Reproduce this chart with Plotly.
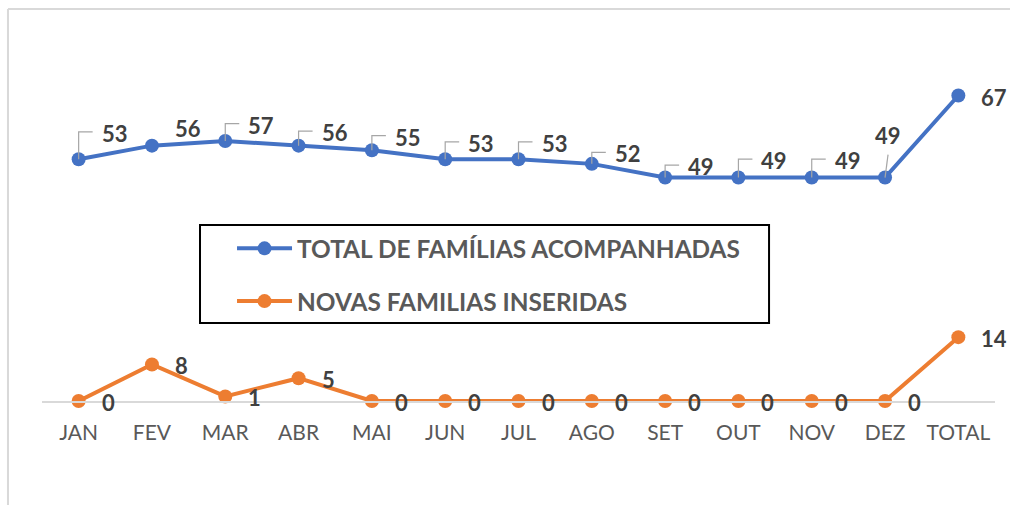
import plotly.graph_objects as go

meses = ['JAN', 'FEV', 'MAR', 'ABR', 'MAI', 'JUN', 'JUL', 'AGO', 'SET', 'OUT', 'NOV', 'DEZ', 'TOTAL']
total_familias = [53, 56, 57, 56, 55, 53, 53, 52, 49, 49, 49, 49, 67]
novas_familias = [0, 8, 1, 5, 0, 0, 0, 0, 0, 0, 0, 0, 14]

nome_total = 'TOTAL DE FAMÍLIAS ACOMPANHADAS'
nome_novas = 'NOVAS FAMILIAS INSERIDAS'

AZUL = '#4472C4'
LARANJA = '#ED7D31'
FONTE = 'Lato'

# ajustes dos rótulos (pixels, positivo = para cima)
desloc_azul = [26, 17, 16, 13, 13, 16, 16, 10, 11, 17, 17, 42, -2]
guia_azul = [True, False, True, True, True, True, True, True, True, True, True, True, False]

fig = go.Figure()
fig.add_trace(go.Scatter(x=meses, y=total_familias, name=nome_total, mode='lines+markers',
                         line=dict(color=AZUL, width=4), marker=dict(size=14, color=AZUL),
                         cliponaxis=False, legendgroup='a', hoverinfo='skip'))
fig.add_trace(go.Scatter(x=meses, y=novas_familias, name=nome_novas, mode='lines+markers',
                         line=dict(color=LARANJA, width=4), marker=dict(size=14, color=LARANJA),
                         cliponaxis=False, legendgroup='b', hoverinfo='skip'))

anots = []
shapes = []
for i, (m, v) in enumerate(zip(meses, total_familias)):
    dy = desloc_azul[i]
    if m == 'DEZ':
        anots.append(dict(x=m, y=v, text=str(v), showarrow=False, xanchor='center', yanchor='middle',
                          xshift=3, yshift=dy))
        shapes.append(dict(type='path', xref='x', yref='y', xsizemode='pixel', ysizemode='pixel',
                           xanchor=i, yanchor=v, path='M 0 0 L 3 23',
                           line=dict(color='#A6A6A6', width=1.2)))
    else:
        anots.append(dict(x=m, y=v, text=str(v), showarrow=False, xanchor='left', yanchor='middle',
                          xshift=21, yshift=dy))
        if guia_azul[i]:
            h = dy + 1.5
            shapes.append(dict(type='path', xref='x', yref='y', xsizemode='pixel', ysizemode='pixel',
                               xanchor=i, yanchor=v, path=f'M 0 0 L 0 {h} L 14 {h}',
                               line=dict(color='#A6A6A6', width=1.2)))
for m, v in zip(meses, novas_familias):
    anots.append(dict(x=m, y=v, text=str(v), showarrow=False, xanchor='left', yanchor='middle',
                      xshift=21, yshift=-1))
for a in anots:
    a['font'] = dict(family=FONTE, size=22, color='#404040', weight='bold')

# moldura do gráfico
shapes.append(dict(type='line', xref='paper', yref='paper', x0=-0.0357, x1=1.02, y0=1.0289, y1=1.0289,
                   line=dict(color='#D9D9D9', width=2)))
shapes.append(dict(type='line', xref='paper', yref='paper', x0=-0.0357, x1=-0.0357, y0=1.0289, y1=-0.28,
                   line=dict(color='#D9D9D9', width=2)))
# caixa da legenda
shapes.append(dict(type='rect', xref='paper', yref='paper', x0=0.1658, x1=0.7629, y0=0.2047, y1=0.4619,
                   line=dict(color='black', width=2), fillcolor='white', layer='below'))

fig.update_layout(
    width=1010, height=505,
    margin=dict(l=42, r=15, t=20, b=104),
    paper_bgcolor='white', plot_bgcolor='rgba(0,0,0,0)',
    font=dict(family=FONTE, color='#595959'),
    xaxis=dict(type='category', range=[-0.5, 12.5], showgrid=False, showline=True,
               linecolor='#D9D9D9', linewidth=2, ticks='outside', ticklen=12, tickcolor='rgba(0,0,0,0)',
               tickfont=dict(size=21, color='#595959', family=FONTE), fixedrange=True),
    yaxis=dict(range=[0, 83.55], visible=False, fixedrange=True),
    legend=dict(x=0.1994, y=0.4593, xanchor='left', yanchor='top', bgcolor='rgba(0,0,0,0)',
                borderwidth=0, itemwidth=55, tracegroupgap=18,
                font=dict(family=FONTE, size=24.4, color='#595959', weight='bold')),
    annotations=anots,
    shapes=shapes,
)

fig.write_html('out.html', config={'displayModeBar': False},
               post_script="document.body.style.margin='0';")
